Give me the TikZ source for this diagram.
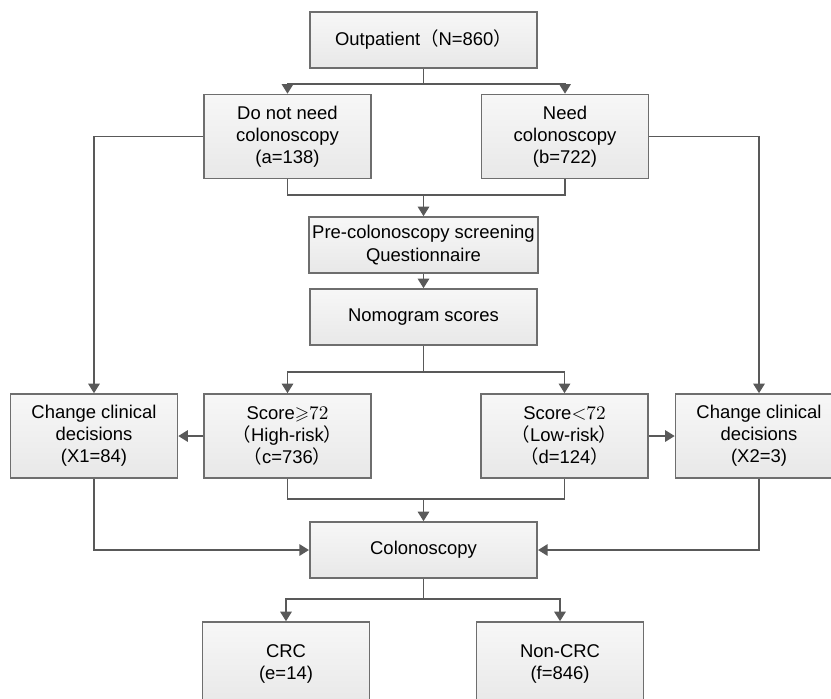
\documentclass[tikz,border=0pt]{standalone}
\usepackage{amssymb}
\usepackage{fontspec}
\setmainfont{Liberation Sans}
\newfontfamily\cjk{Noto Sans CJK SC}
\usetikzlibrary{arrows.meta}
\definecolor{boxline}{HTML}{6E6E6E}
\definecolor{connline}{HTML}{595959}
\definecolor{boxtop}{HTML}{F7F7F7}
\definecolor{boxbottom}{HTML}{E8E8E8}
\tikzset{
  flowbox/.style={draw=boxline, line width=0.95pt, top color=boxtop, bottom color=boxbottom,
    align=center, inner sep=2pt, minimum width=3.34cm, minimum height=1.68cm,
    font=\fontsize{10.5pt}{12.6pt}\selectfont},
  widebox/.style={flowbox, minimum width=4.55cm, minimum height=1.12cm},
  link/.style={draw=connline, line width=0.75pt},
  arr/.style={link, -{Triangle[length=1.9mm, width=2.3mm]}}
}
\newcommand{\fw}[1]{{\cjk #1}}

\begin{document}
\begin{tikzpicture}[x=0.02cm, y=-0.02cm]
    \useasboundingbox (0,0) rectangle (831,698);
    \clip (0,0) rectangle (831,698);
    % boxes
    \node[widebox] (outp) at (423.5,40) {Outpatient\fw{（}N=860\fw{）}};
    \node[flowbox] (nocol) at (287.5,136.5) {Do not need\\colonoscopy\\(a=138)};
    \node[flowbox] (needcol) at (565,136.5) {Need\\colonoscopy\\(b=722)};
    \node[widebox] (preq) at (423.5,245) {Pre-colonoscopy screening\\Questionnaire};
    \node[widebox] (nomo) at (423.5,317) {Nomogram scores};
    \node[flowbox] (chgL) at (94,436) {Change clinical\\decisions\\(X1=84)};
    \node[flowbox] (high) at (287.5,436) {Score$\mathord{\geqslant}72$\\\fw{（}High-risk\fw{）}\\\fw{（}c=736\fw{）}};
    \node[flowbox] (low) at (564.5,436) {Score$\mathord{<}72$\\\fw{（}Low-risk\fw{）}\\\fw{（}d=124\fw{）}};
    \node[flowbox] (chgR) at (759,436) {Change clinical\\decisions\\(X2=3)};
    \node[widebox] (colo) at (423.5,550) {Colonoscopy};
    \node[flowbox] (crc) at (286,664) {CRC\\(e=14)};
    \node[flowbox] (noncrc) at (560,664) {Non-CRC\\(f=846)};
    % junctions
    \coordinate (j1) at (423.5,84);
    \coordinate (j2) at (423.5,195);
    \coordinate (j3) at (423.5,372);
    \coordinate (j4) at (423.5,499);
    \coordinate (j5) at (423.5,599);
    % connectors
    \draw[link] (outp) -- (j1);
    \draw[arr] (j1) -| (nocol);
    \draw[arr] (j1) -| (needcol);
    \draw[link] (nocol.south) |- (j2) -| (needcol.south);
    \draw[arr] (j2) -- (preq);
    \draw[arr] (nocol.west) -| (chgL);
    \draw[arr] (needcol.east) -| (chgR);
    \draw[arr] (preq) -- (nomo);
    \draw[link] (nomo) -- (j3);
    \draw[arr] (j3) -| (high);
    \draw[arr] (j3) -| (low);
    \draw[arr] (high) -- (chgL);
    \draw[arr] (low) -- (chgR);
    \draw[link] (high.south) |- (j4) -| (low.south);
    \draw[arr] (j4) -- (colo);
    \draw[arr] (chgL.south) |- (colo.west);
    \draw[arr] (chgR.south) |- (colo.east);
    \draw[link] (colo) -- (j5);
    \draw[arr] (j5) -| (crc);
    \draw[arr] (j5) -| (noncrc);
\end{tikzpicture}
\end{document}
